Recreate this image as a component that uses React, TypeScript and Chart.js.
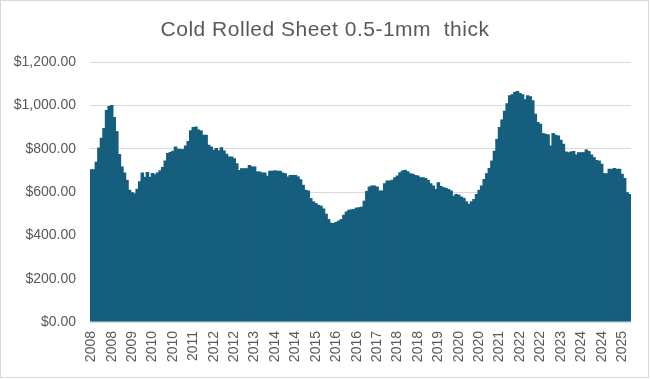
import React, { useEffect, useRef } from "react";
import { Chart, registerables } from "chart.js";

Chart.register(...registerables);

const TITLE = "Cold Rolled Sheet 0.5-1mm  thick";
const START_YEAR = 2008;
const MONTHS = ["Jan", "Feb", "Mar", "Apr", "May", "Jun", "Jul", "Aug", "Sep", "Oct", "Nov", "Dec"];
const LABEL_EVERY = 8;

// Monthly price, Jan 2008 .. Aug 2025
const prices2008 = [705, 705, 740, 805, 850, 895, 978, 997, 1002, 946, 881, 775];
const prices2009 = [718, 690, 656, 610, 599, 594, 615, 650, 690, 670, 692, 670];
const prices2010 = [688, 682, 690, 700, 715, 745, 780, 785, 790, 810, 800, 798];
const prices2011 = [798, 815, 835, 885, 900, 902, 888, 884, 864, 864, 818, 810];
const prices2012 = [795, 803, 792, 807, 792, 776, 764, 764, 756, 733, 702, 710];
const prices2013 = [710, 710, 725, 718, 718, 695, 695, 690, 690, 675, 698, 698];
const prices2014 = [700, 698, 698, 690, 687, 672, 679, 679, 679, 672, 659, 633];
const prices2015 = [610, 607, 572, 557, 549, 541, 537, 524, 500, 475, 458, 457];
const prices2016 = [462, 468, 475, 495, 510, 518, 520, 522, 528, 530, 532, 560];
const prices2017 = [605, 625, 630, 630, 625, 607, 607, 640, 653, 653, 657, 668];
const prices2018 = [676, 691, 699, 702, 696, 687, 684, 679, 676, 668, 668, 665];
const prices2019 = [656, 640, 630, 614, 645, 628, 622, 619, 614, 607, 583, 591];
const prices2020 = [588, 579, 573, 557, 545, 557, 568, 591, 610, 630, 660, 687];
const prices2021 = [711, 745, 790, 845, 900, 935, 975, 1010, 1046, 1051, 1062, 1066];
const prices2022 = [1057, 1051, 1028, 1046, 1042, 1023, 961, 923, 915, 872, 869, 866];
const prices2023 = [815, 872, 864, 861, 841, 823, 787, 784, 787, 789, 773, 784];
const prices2024 = [784, 784, 796, 789, 773, 761, 748, 745, 730, 687, 687, 707];
const prices2025 = [707, 711, 707, 707, 684, 665, 599, 591];

const prices = [
  ...prices2008, ...prices2009, ...prices2010, ...prices2011, ...prices2012, ...prices2013,
  ...prices2014, ...prices2015, ...prices2016, ...prices2017, ...prices2018, ...prices2019,
  ...prices2020, ...prices2021, ...prices2022, ...prices2023, ...prices2024, ...prices2025,
];

const categories = prices.map((_, i) => `${MONTHS[i % 12]} ${START_YEAR + Math.floor(i / 12)}`);

const Y_MIN = 0;
const Y_MAX = 1200;
const Y_STEP = 200;

const BAR_COLOR = "#165e7d";
const TEXT_COLOR = "#595959";
const GRID_COLOR = "#d9d9d9";
const FONT = '"Liberation Sans", Arial, sans-serif';

const framePlugin = {
  id: "frame",
  beforeDraw(chart: any) {
    const ctx = chart.ctx;
    ctx.save();
    ctx.fillStyle = "#ffffff";
    ctx.fillRect(0, 0, chart.width, chart.height);
    ctx.strokeStyle = GRID_COLOR;
    ctx.lineWidth = 1;
    ctx.strokeRect(0.5, 0.5, chart.width - 2, chart.height - 2);
    ctx.fillStyle = TEXT_COLOR;
    ctx.font = `21px ${FONT}`;
    try { (ctx as any).letterSpacing = "0.5px"; } catch (e) {}
    ctx.textAlign = "center";
    ctx.textBaseline = "alphabetic";
    ctx.fillText(TITLE, chart.width / 2, 36);
    ctx.restore();
  },
};

export default function App() {
  const ref = useRef<HTMLCanvasElement | null>(null);

  useEffect(() => {
    if (!ref.current) return;
    const chart = new Chart(ref.current, {
      type: "bar",
      data: {
        labels: categories,
        datasets: [
          {
            label: "Price",
            data: prices,
            backgroundColor: BAR_COLOR,
            borderWidth: 0,
            inflateAmount: 0,
            barPercentage: 1.4,
            categoryPercentage: 1,
          },
        ],
      },
      options: {
        responsive: false,
        animation: false,
        devicePixelRatio: 1,
        layout: { padding: { top: 62, right: 19, left: 0, bottom: 0 } },
        plugins: {
          legend: { display: false },
          title: { display: false },
          tooltip: { enabled: false },
        },
        scales: {
          x: {
            type: "category",
            offset: true,
            grid: { display: false, drawTicks: false },
            border: { display: false },
            ticks: {
              autoSkip: false,
              maxRotation: 90,
              minRotation: 90,
              padding: 9,
              color: TEXT_COLOR,
              font: { family: FONT, size: 14 },
              callback: (_v: any, index: number) =>
                index % LABEL_EVERY === 0 ? categories[index].split(" ")[1] : null,
            },
            afterFit: (scale: any) => {
              scale.height = 57;
            },
          },
          y: {
            min: Y_MIN,
            max: Y_MAX,
            grid: { color: GRID_COLOR, lineWidth: 1, drawTicks: false },
            border: { display: false },
            ticks: {
              stepSize: Y_STEP,
              padding: 14,
              color: TEXT_COLOR,
              font: { family: FONT, size: 14 },
              callback: (v: any) =>
                "$" + Number(v).toLocaleString("en-US", { minimumFractionDigits: 2, maximumFractionDigits: 2 }),
            },
            afterFit: (scale: any) => {
              scale.width = 90;
            },
          },
        },
      },
      plugins: [framePlugin],
    });
    return () => chart.destroy();
  }, []);

  return (
    <div style={{ position: "absolute", left: 0, top: 0, width: 650, height: 379 }}>
      <canvas ref={ref} width={650} height={379} style={{ display: "block" }} />
    </div>
  );
}
